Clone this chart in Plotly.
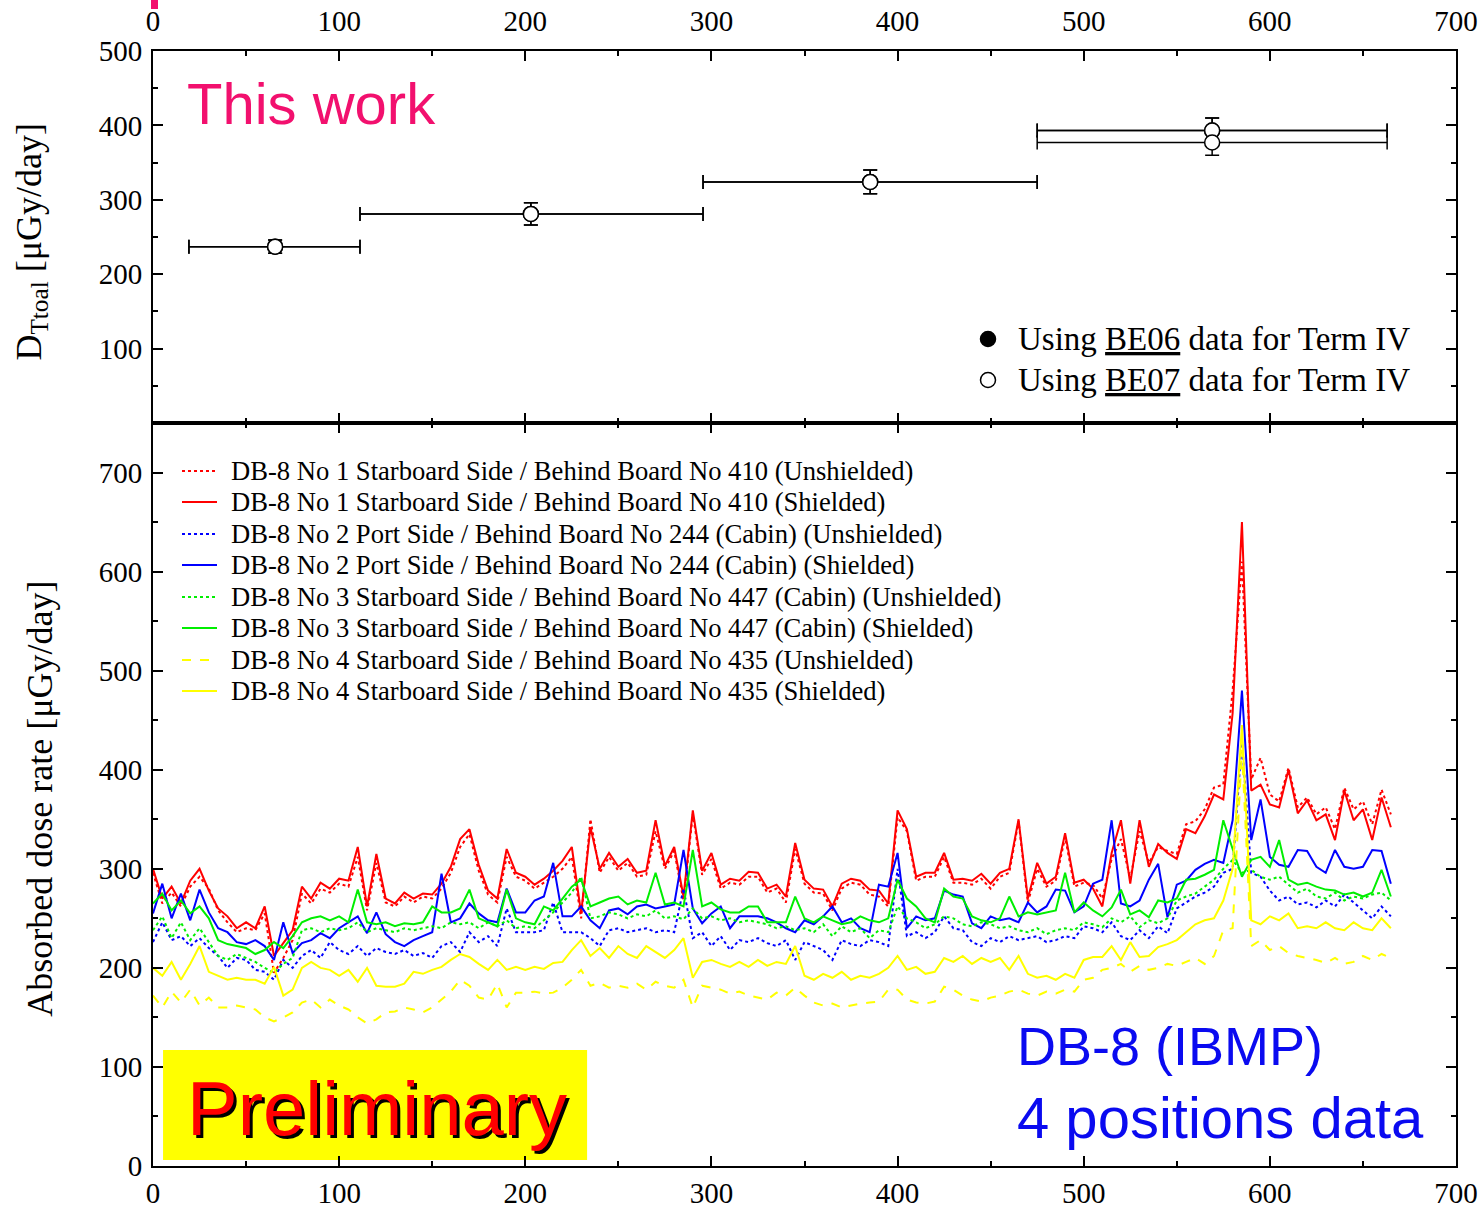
import plotly.graph_objects as go

# ---------------- data ----------------
DAYS = list(range(0, 670, 5))  # mission day grid for DB-8 series

R_U = [296, 265, 276, 262, 282, 292, 280, 258, 246, 236,
       240, 238, 255, 195, 210, 228, 275, 265, 280, 276,
       285, 282, 312, 258, 306, 266, 262, 272, 266, 272,
       270, 280, 296, 322, 335, 298, 274, 266, 312, 292,
       288, 280, 286, 292, 300, 312, 250, 350, 296, 312,
       298, 306, 292, 294, 338, 300, 318, 268, 355, 294,
       310, 280, 286, 284, 292, 292, 276, 280, 266, 320,
       285, 276, 275, 258, 280, 286, 284, 274, 272, 262,
       352, 338, 288, 292, 292, 312, 286, 286, 284, 290,
       280, 292, 296, 348, 266, 300, 282, 288, 332, 282,
       286, 284, 270, 310, 330, 290, 338, 306, 322, 318,
       315, 345, 348, 360, 382, 385, 480, 610, 390, 412,
       375, 368, 402, 362, 372, 355, 362, 340, 382, 360,
       368, 345, 380, 355]
R_S = [300, 270, 282, 265, 288, 300, 278, 260, 252, 240,
       246, 240, 262, 212, 225, 238, 282, 270, 286, 280,
       290, 288, 322, 262, 315, 270, 265, 276, 270, 275,
       274, 285, 302, 330, 340, 304, 278, 270, 320, 296,
       292, 284, 290, 298, 308, 322, 255, 342, 300, 316,
       302, 310, 296, 298, 349, 303, 322, 272, 359, 298,
       316, 284, 290, 288, 297, 296, 280, 284, 272, 326,
       289, 280, 279, 262, 285, 290, 288, 279, 278, 265,
       359, 340, 292, 296, 296, 316, 289, 290, 288, 295,
       285, 296, 300, 350, 270, 306, 285, 292, 336, 286,
       289, 280, 262, 316, 349, 285, 349, 302, 325, 316,
       310, 340, 336, 353, 375, 370, 457, 650, 379, 385,
       365, 362, 400, 356, 369, 349, 355, 329, 379, 349,
       360, 329, 372, 342]
B_U = [226, 246, 228, 232, 222, 230, 220, 212, 200, 210,
       208, 198, 196, 188, 208, 200, 212, 218, 210, 226,
       218, 214, 222, 212, 220, 216, 214, 218, 212, 215,
       210, 222, 226, 216, 236, 226, 232, 222, 260, 236,
       236, 236, 238, 266, 236, 236, 236, 230, 222, 238,
       240, 236, 238, 240, 236, 238, 236, 280, 230, 236,
       222, 232, 218, 228, 226, 230, 225, 222, 228, 208,
       226, 222, 218, 208, 228, 224, 222, 228, 226, 222,
       300, 232, 236, 230, 236, 252, 240, 238, 226, 222,
       230, 226, 232, 228, 230, 232, 226, 228, 232, 230,
       242, 240, 236, 246, 232, 228, 238, 230, 242, 235,
       260, 266, 272, 276, 282, 296, 300, 430, 296, 292,
       278, 268, 272, 264, 266, 261, 268, 262, 274, 266,
       258, 250, 262, 252]
B_S = [255, 285, 250, 275, 248, 279, 256, 240, 236, 226,
       224, 228, 222, 208, 246, 215, 225, 228, 235, 230,
       240, 246, 252, 235, 256, 234, 226, 222, 228, 232,
       236, 295, 246, 250, 265, 255, 248, 246, 280, 256,
       256, 268, 272, 306, 252, 252, 262, 248, 240, 258,
       260, 254, 262, 264, 260, 262, 264, 319, 260, 245,
       255, 262, 240, 252, 252, 252, 250, 246, 240, 236,
       248, 244, 252, 262, 246, 250, 240, 236, 284, 282,
       316, 240, 252, 248, 250, 278, 274, 272, 245, 240,
       252, 248, 250, 246, 266, 256, 262, 279, 278, 256,
       262, 285, 289, 349, 265, 262, 268, 289, 305, 251,
       284, 288, 299, 305, 309, 306, 349, 480, 329, 370,
       312, 304, 302, 319, 318, 302, 296, 319, 302, 300,
       302, 319, 318, 285]
G_U = [238, 252, 230, 246, 228, 240, 226, 212, 208, 214,
       210, 206, 200, 195, 204, 210, 238, 240, 236, 240,
       238, 240, 246, 236, 240, 238, 236, 240, 238, 240,
       242, 240, 246, 244, 246, 240, 246, 242, 248, 240,
       242, 240, 248, 256, 266, 276, 292, 250, 252, 256,
       254, 250, 254, 252, 258, 250, 252, 249, 260, 250,
       252, 248, 250, 246, 248, 246, 244, 240, 242, 238,
       240, 236, 244, 232, 242, 236, 240, 230, 238, 236,
       262, 250, 246, 240, 244, 252, 250, 244, 242, 246,
       244, 240, 242, 238, 236, 240, 234, 238, 240, 238,
       246, 244, 241, 250, 246, 252, 241, 248, 245, 250,
       268, 272, 275, 282, 289, 300, 309, 296, 299, 292,
       289, 292, 284, 276, 280, 272, 270, 276, 268, 272,
       270, 274, 276, 268]
G_S = [265, 275, 258, 268, 255, 262, 250, 228, 224, 222,
       220, 214, 218, 226, 220, 232, 246, 250, 252, 248,
       252, 246, 279, 246, 244, 246, 242, 245, 244, 246,
       262, 256, 256, 260, 279, 250, 246, 242, 279, 250,
       246, 244, 262, 258, 270, 282, 289, 262, 266, 270,
       272, 264, 268, 266, 296, 264, 266, 262, 319, 262,
       266, 259, 256, 256, 262, 262, 246, 246, 246, 272,
       250, 246, 252, 248, 244, 246, 252, 248, 246, 250,
       289, 270, 262, 250, 246, 280, 272, 270, 252, 248,
       246, 250, 272, 252, 256, 254, 256, 258, 296, 256,
       266, 258, 252, 261, 279, 254, 258, 251, 268, 266,
       270, 289, 290, 294, 299, 349, 320, 292, 309, 312,
       302, 329, 289, 284, 286, 282, 279, 278, 274, 276,
       272, 276, 299, 272]
Y_U = [172, 160, 176, 165, 178, 162, 170, 160, 160, 162,
       160, 158, 150, 146, 150, 155, 165, 168, 160, 168,
       162, 158, 150, 144, 148, 155, 156, 160, 158, 155,
       160, 168, 176, 188, 182, 170, 168, 184, 160, 175,
       175, 176, 174, 175, 180, 188, 198, 182, 185, 180,
       182, 180, 184, 178, 186, 182, 180, 188, 160, 182,
       180, 178, 174, 176, 172, 170, 168, 175, 172, 180,
       172, 165, 162, 164, 160, 162, 164, 165, 166, 178,
       178, 168, 165, 164, 166, 181, 178, 172, 168, 166,
       170, 172, 176, 178, 174, 172, 176, 174, 178, 176,
       188, 190, 198, 200, 204, 196, 202, 198, 200, 204,
       202, 206, 210, 204, 212, 238, 240, 420, 222, 228,
       218, 222, 215, 212, 210, 208, 205, 210, 204, 206,
       212, 208, 214, 210]
Y_S = [200, 192, 206, 188, 204, 222, 196, 192, 188, 190,
       188, 188, 184, 201, 172, 178, 200, 206, 200, 198,
       192, 198, 186, 200, 182, 181, 181, 184, 196, 194,
       198, 201, 208, 214, 211, 204, 198, 208, 198, 201,
       198, 201, 199, 205, 206, 218, 228, 212, 220, 210,
       222, 214, 210, 222, 216, 210, 218, 230, 190, 206,
       208, 204, 201, 206, 201, 208, 202, 206, 204, 222,
       192, 188, 194, 190, 196, 188, 192, 190, 194, 200,
       212, 198, 201, 194, 196, 210, 206, 212, 204, 210,
       206, 210, 198, 212, 194, 190, 192, 188, 194, 190,
       208, 211, 211, 222, 208, 226, 211, 212, 221, 224,
       228, 236, 244, 248, 250, 268, 300, 445, 248, 244,
       252, 248, 255, 240, 242, 240, 246, 240, 238, 246,
       240, 238, 250, 240]

SERIES_NAMES = [
    "DB-8 No 1 Starboard Side / Behind Board No 410 (Unshielded)",
    "DB-8 No 1 Starboard Side / Behind Board No 410 (Shielded)",
    "DB-8 No 2 Port Side / Behind Board No 244 (Cabin) (Unshielded)",
    "DB-8 No 2 Port Side / Behind Board No 244 (Cabin) (Shielded)",
    "DB-8 No 3 Starboard Side / Behind Board No 447 (Cabin) (Unshielded)",
    "DB-8 No 3 Starboard Side / Behind Board No 447 (Cabin) (Shielded)",
    "DB-8 No 4 Starboard Side / Behind Board No 435 (Unshielded)",
    "DB-8 No 4 Starboard Side / Behind Board No 435 (Shielded)",
]
SERIES_VALUES = [R_U, R_S, B_U, B_S, G_U, G_S, Y_U, Y_S]
SERIES_COLORS = ["#FF0000", "#FF0000", "#0000FF", "#0000FF",
                 "#00EE00", "#00EE00", "#FFFF00", "#FFFF00"]
SERIES_DASH = ["dot", "solid", "dot", "solid", "dot", "solid", "dash", "solid"]

# Top panel: total dose per term
TERM_X = [65.6, 203.0, 385.3, 569.0]
TERM_XMINUS = [46.3, 91.8, 89.8, 94.0]
TERM_XPLUS = [45.6, 92.5, 89.7, 94.0]
BE06_Y = [237, 281, 324, 393]
BE06_ERR = [9, 15, 16, 17]
BE07_X = [65.6, 203.0, 385.3, 569.0, 569.0]
BE07_XMINUS = [46.3, 91.8, 89.8, 94.0, 94.0]
BE07_XPLUS = [45.6, 92.5, 89.7, 94.0, 94.0]
BE07_Y = [237, 281, 324, 393, 377]
BE07_ERR = [9, 15, 16, 17, 17]
TOP_LEGEND = ["Using <u>BE06</u> data for Term IV", "Using <u>BE07</u> data for Term IV"]

SERIF = "Liberation Serif, Times New Roman, serif"
SANS = "Liberation Sans, Arial, sans-serif"

# plot-area geometry in pixels (for placing legend-like annotations)
L, R, T, B = 153, 1456, 51, 1166


def px_x(p):
    return (p - L) / (R - L)


def px_y(p):
    return (B - p) / (B - T)


fig = go.Figure()

for name, vals, col, dash in zip(SERIES_NAMES, SERIES_VALUES, SERIES_COLORS, SERIES_DASH):
    fig.add_trace(go.Scatter(
        x=DAYS, y=vals, mode="lines", name=name, showlegend=False,
        line=dict(color=col, width=2, dash=dash),
        xaxis="x", yaxis="y"))

fig.add_trace(go.Scatter(
    x=TERM_X, y=BE06_Y, mode="markers", name=TOP_LEGEND[0], showlegend=False,
    marker=dict(symbol="circle", size=15, color="black", line=dict(color="black", width=1.5)),
    error_x=dict(type="data", symmetric=False, array=TERM_XPLUS, arrayminus=TERM_XMINUS,
                 color="black", thickness=1.5, width=7),
    error_y=dict(type="data", array=BE06_ERR, color="black", thickness=1.5, width=7),
    xaxis="x2", yaxis="y2"))
fig.add_trace(go.Scatter(
    x=BE07_X, y=BE07_Y, mode="markers", name=TOP_LEGEND[1], showlegend=False,
    marker=dict(symbol="circle", size=15, color="white", line=dict(color="black", width=1.5)),
    error_x=dict(type="data", symmetric=False, array=BE07_XPLUS, arrayminus=BE07_XMINUS,
                 color="black", thickness=1.5, width=7),
    error_y=dict(type="data", array=BE07_ERR, color="black", thickness=1.5, width=7),
    xaxis="x2", yaxis="y2"))

SPLIT = 743 / 1115

axis_common = dict(showline=True, linecolor="black", linewidth=2, mirror="ticks",
                   ticks="inside", ticklen=10, tickwidth=1.5, tickcolor="black",
                   showgrid=False, zeroline=False, automargin=False,
                   tickfont=dict(family=SERIF, size=29, color="black"))
minor = dict(ticks="inside", ticklen=5, tickwidth=1.5, tickcolor="black", dtick=50, showgrid=False)
XT = [0, 100, 200, 300, 400, 500, 600, 700]

fig.update_layout(
    width=1482, height=1211,
    margin=dict(l=L, r=1482 - R, t=T, b=1211 - B, autoexpand=False),
    paper_bgcolor="white", plot_bgcolor="white",
    xaxis=dict(domain=[0, 1], anchor="y", range=[0, 700], tickvals=XT, minor=minor, **axis_common),
    yaxis=dict(domain=[0, SPLIT], anchor="x", range=[0, 750],
               tickvals=[0, 100, 200, 300, 400, 500, 600, 700], minor=minor,
               ticklabelstandoff=3, **axis_common),
    xaxis2=dict(domain=[0, 1], anchor="y2", side="top", range=[0, 700], tickvals=XT, minor=minor,
                ticklabelstandoff=6, **axis_common),
    yaxis2=dict(domain=[SPLIT, 1], anchor="x2", range=[0, 500],
                tickvals=[100, 200, 300, 400, 500], minor=minor, ticklabelstandoff=3, **axis_common),
    showlegend=False,
)

annotations = [
    dict(text="D<sub>Ttoal</sub> [μGy/day]", x=-0.094, y=px_y(242), xref="paper", yref="paper",
         textangle=-90, showarrow=False, xanchor="center", yanchor="middle",
         font=dict(family=SERIF, size=36, color="black")),
    dict(text="Absorbed dose rate [μGy/day]", x=-0.087, y=px_y(799), xref="paper", yref="paper",
         textangle=-90, showarrow=False, xanchor="center", yanchor="middle",
         font=dict(family=SERIF, size=36, color="black")),
    dict(text="This work", x=17, y=430, xref="x2", yref="y2", xanchor="left", yanchor="middle",
         showarrow=False, font=dict(family=SANS, size=58, color="#F2106E")),
    dict(text="DB-8 (IBMP)", x=px_x(1015), y=px_y(1046), xref="paper", yref="paper",
         xanchor="left", yanchor="middle",
         showarrow=False, font=dict(family=SANS, size=54, color="#0A0AF0")),
    dict(text="4 positions data", x=px_x(1015), y=px_y(1117), xref="paper", yref="paper",
         xanchor="left", yanchor="middle",
         showarrow=False, font=dict(family=SANS, size=58, color="#0A0AF0")),
    dict(text="Preliminary", x=120.5, y=58, xref="x", yref="y", xanchor="center", yanchor="middle",
         xshift=3, yshift=-3, showarrow=False, font=dict(family=SANS, size=76, color="black")),
    dict(text="Preliminary", x=120.5, y=58, xref="x", yref="y", xanchor="center", yanchor="middle",
         showarrow=False, font=dict(family=SANS, size=76, color="#FF0000")),
]

shapes = [
    dict(type="rect", xref="x", yref="y", x0=5.4, x1=233.2, y0=6, y1=117,
         fillcolor="#FFFF00", line=dict(width=0), layer="below"),
    dict(type="rect", xref="paper", yref="paper", x0=px_x(151), x1=px_x(158), y0=px_y(9), y1=px_y(0),
         fillcolor="#F2106E", line=dict(width=0)),
]

# legend of the lower panel
LEG_ROWS = [471, 502, 534, 565, 597, 628, 660, 691]
for name, col, dash, row in zip(SERIES_NAMES, SERIES_COLORS, SERIES_DASH, LEG_ROWS):
    shapes.append(dict(type="line", xref="paper", yref="paper", x0=px_x(182), x1=px_x(217),
                       y0=px_y(row), y1=px_y(row), line=dict(color=col, width=2, dash=dash)))
    annotations.append(dict(text=name, x=px_x(229), y=px_y(row), xref="paper", yref="paper",
                            xanchor="left", yanchor="middle", showarrow=False,
                            font=dict(family=SERIF, size=26.6, color="black")))

# legend of the upper panel
TOP_ROWS = [339, 380]
TOP_FILL = ["black", "white"]
for name, fill, row in zip(TOP_LEGEND, TOP_FILL, TOP_ROWS):
    shapes.append(dict(type="circle", xref="paper", yref="paper",
                       x0=px_x(980.5), x1=px_x(995.5), y0=px_y(row + 7.5), y1=px_y(row - 7.5),
                       fillcolor=fill, line=dict(color="black", width=1.5)))
    annotations.append(dict(text=name, x=px_x(1016), y=px_y(row), xref="paper", yref="paper",
                            xanchor="left", yanchor="middle", showarrow=False,
                            font=dict(family=SERIF, size=33, color="black")))

fig.update_layout(annotations=annotations, shapes=shapes)

fig.write_html("out.html")
